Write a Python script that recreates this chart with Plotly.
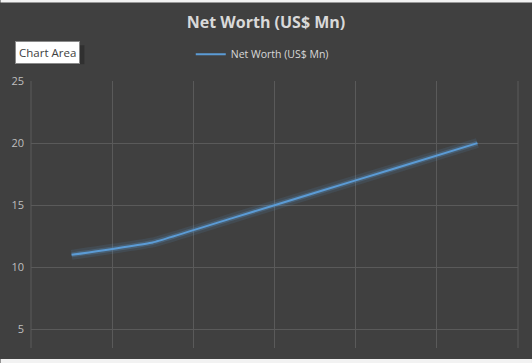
import plotly.graph_objects as go

categories = ["1", "2", "3", "4", "5", "6"]
net_worth = [11, 12, 14, 16, 18, 20]
y_ticks = [5, 10, 15, 20, 25]
series_name = "Net Worth (US$ Mn)"

W, H = 532, 363
L, R, T, B = 30.5, 14, 80.7, 15
pw = W - L - R
ph = H - T - B

def px_x(p):
    return (p - L) / pw

def px_y(p):
    return (H - B - p) / ph

fig = go.Figure()
# glow layers
fig.add_trace(go.Scatter(x=categories, y=net_worth, mode="lines", showlegend=False,
                         hoverinfo="skip",
                         line=dict(color="rgba(91,155,213,0.12)", width=10, shape="spline", smoothing=0.3)))
fig.add_trace(go.Scatter(x=categories, y=net_worth, mode="lines", showlegend=False,
                         hoverinfo="skip",
                         line=dict(color="rgba(91,155,213,0.25)", width=5, shape="spline", smoothing=0.3)))
fig.add_trace(go.Scatter(x=categories, y=net_worth, mode="lines", name=series_name,
                         line=dict(color="#5b9bd5", width=2, shape="spline", smoothing=0.3)))

fig.update_layout(
    width=W, height=H,
    margin=dict(l=L, r=R, t=T, b=B, pad=0, autoexpand=False),
    paper_bgcolor="#404040", plot_bgcolor="#404040",
    font=dict(family="Open Sans", color="#d9d9d9", size=11),
    title=dict(text="<b>Net Worth (US$ Mn)</b>", x=0.5, xanchor="center",
               y=1 - 22 / H, yanchor="middle",
               font=dict(family="Open Sans", size=16, color="#d9d9d9")),
    showlegend=True,
    legend=dict(orientation="h", x=px_x(262), xanchor="center", y=px_y(54), yanchor="middle",
                bgcolor="rgba(0,0,0,0)", font=dict(size=10.5, color="#d9d9d9"),
                itemwidth=30),
    xaxis=dict(type="category", range=[-0.5, 5.5], tickson="boundaries",
               showgrid=True, gridcolor="#5a5a5a", gridwidth=1,
               showticklabels=False, ticks="", zeroline=False, showline=False),
    yaxis=dict(range=[3.5, 25], tickvals=y_ticks, showgrid=True, gridcolor="#5a5a5a",
               gridwidth=1, zeroline=False, showline=False, ticks="",
               tickfont=dict(size=11, color="#bfbfbf"), ticklabelstandoff=6),
)

# left and right boundary lines of plot area (outer category boundaries)
for xb in (0, 1):
    fig.add_shape(type="line", xref="paper", yref="paper", x0=xb, x1=xb, y0=0, y1=1,
                  line=dict(color="#5a5a5a", width=1))

# white strips at top and bottom of the screenshot
fig.add_shape(type="rect", xref="paper", yref="paper", x0=px_x(0), x1=px_x(W),
              y0=px_y(2), y1=px_y(-2), fillcolor="#f2f2f2", line=dict(width=0), layer="above")
fig.add_shape(type="rect", xref="paper", yref="paper", x0=px_x(0), x1=px_x(W),
              y0=px_y(H + 2), y1=px_y(359), fillcolor="#f2f2f2", line=dict(width=0), layer="above")

# "Chart Area" tooltip
fig.add_shape(type="rect", xref="paper", yref="paper", x0=px_x(16), x1=px_x(84),
              y0=px_y(64), y1=px_y(45), fillcolor="rgba(0,0,0,0.25)", line=dict(width=0), layer="above")
fig.add_annotation(text="Chart Area", xref="paper", yref="paper",
                   x=px_x(14), xanchor="left", y=px_y(52.5), yanchor="middle",
                   showarrow=False, bgcolor="#ffffff", bordercolor="#8a8a8a", borderwidth=1,
                   borderpad=3, font=dict(family="Open Sans", size=11.5, color="#404040"))

fig.write_html("out.html", config={"displayModeBar": False},
               post_script="document.body.style.margin='0px';document.body.style.overflow='hidden';")
